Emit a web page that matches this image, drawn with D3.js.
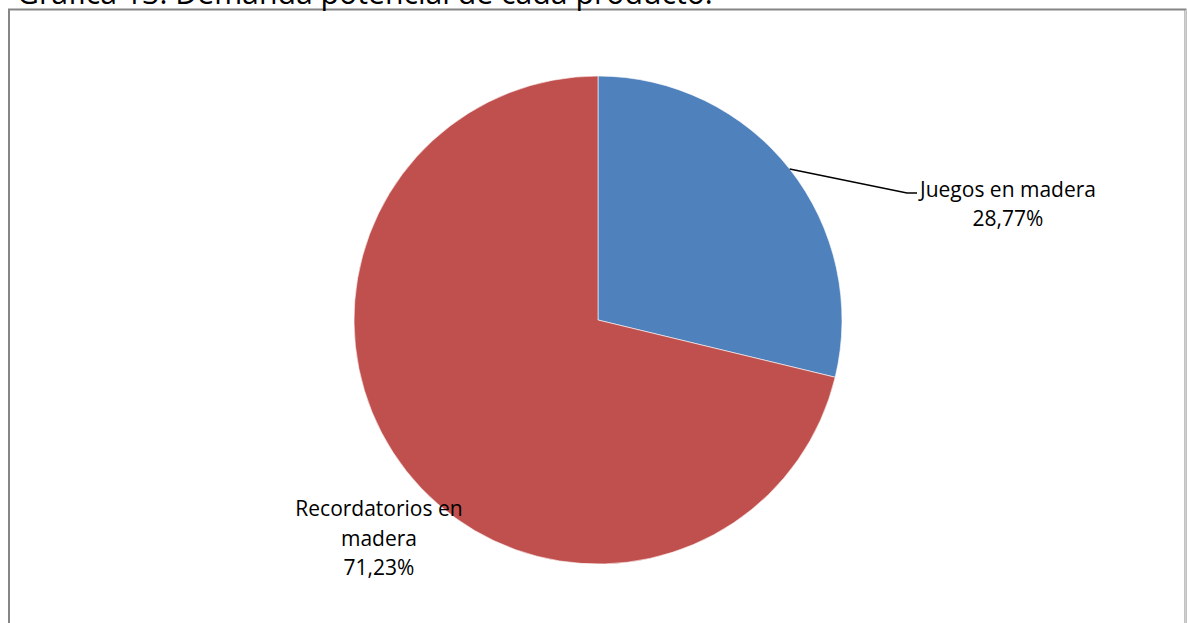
<!DOCTYPE html>
<html><head><meta charset="utf-8">
<script src="https://cdn.jsdelivr.net/npm/d3@7"></script>
<style>html,body{margin:0;padding:0;background:#fff;overflow:hidden}</style>
</head><body>
<svg id="c" width="1187" height="623"></svg>
<script>
const title = "Gráfica 13. Demanda potencial de cada producto.";
const categories = ["Juegos en madera", "Recordatorios en madera"];
const values = [28.77, 71.23];
const labelLines = [["Juegos en madera", "28,77%"], ["Recordatorios en", "madera", "71,23%"]];
const colors = ["#4F81BD", "#C0504D"];

const svg = d3.select("#c");
const W = 1187, H = 623;
const font = "'Open Sans', 'Liberation Sans', sans-serif";

// frame
svg.append("rect").attr("x", 9).attr("y", 9.5).attr("width", 1176.5).attr("height", 640)
  .attr("fill", "#fff").attr("stroke", "#868686").attr("stroke-width", 2);
svg.append("line").attr("x1", 1185.5).attr("x2", 1185.5).attr("y1", 10).attr("y2", H)
  .attr("stroke", "#d0d0d0").attr("stroke-width", 1);

// title (clipped at top as in the reference)
const t = svg.append("text").attr("x", 17).attr("y", 4).attr("font-family", font)
  .attr("font-size", 26).attr("fill", "#000").text(title);
const tw = t.node().getComputedTextLength();
t.attr("font-size", 26 * 696 / tw);

const cx = 598, cy = 320, r = 244;
const pie = d3.pie().sort(null).value(d => d)(values);
const arc = d3.arc().innerRadius(0).outerRadius(r);
const g = svg.append("g").attr("transform", `translate(${cx},${cy})`);
g.selectAll("path").data(pie).join("path")
  .attr("d", arc).attr("fill", (d, i) => colors[i])
  .attr("stroke", "#fff").attr("stroke-width", 0.6);

const fs = 21;
// leader line from the middle of the first slice
const mid0 = (pie[0].startAngle + pie[0].endAngle) / 2;
const p0 = [cx + r * Math.sin(mid0), cy - r * Math.cos(mid0)];
svg.append("polyline")
  .attr("points", `${p0[0]},${p0[1]} 907,193 917,193`)
  .attr("fill", "none").attr("stroke", "#000").attr("stroke-width", 1.5);
const l0 = svg.append("text").attr("font-family", font).attr("font-size", fs).attr("fill", "#000")
  .attr("text-anchor", "middle");
labelLines[0].forEach((s, i) => l0.append("tspan").attr("x", 1008).attr("y", 197 + i * 29).text(s));

const l1 = svg.append("text").attr("font-family", font).attr("font-size", fs).attr("fill", "#000")
  .attr("text-anchor", "middle");
labelLines[1].forEach((s, i) => l1.append("tspan").attr("x", 379).attr("y", 516 + i * 29.5).text(s));
</script>
</body></html>
